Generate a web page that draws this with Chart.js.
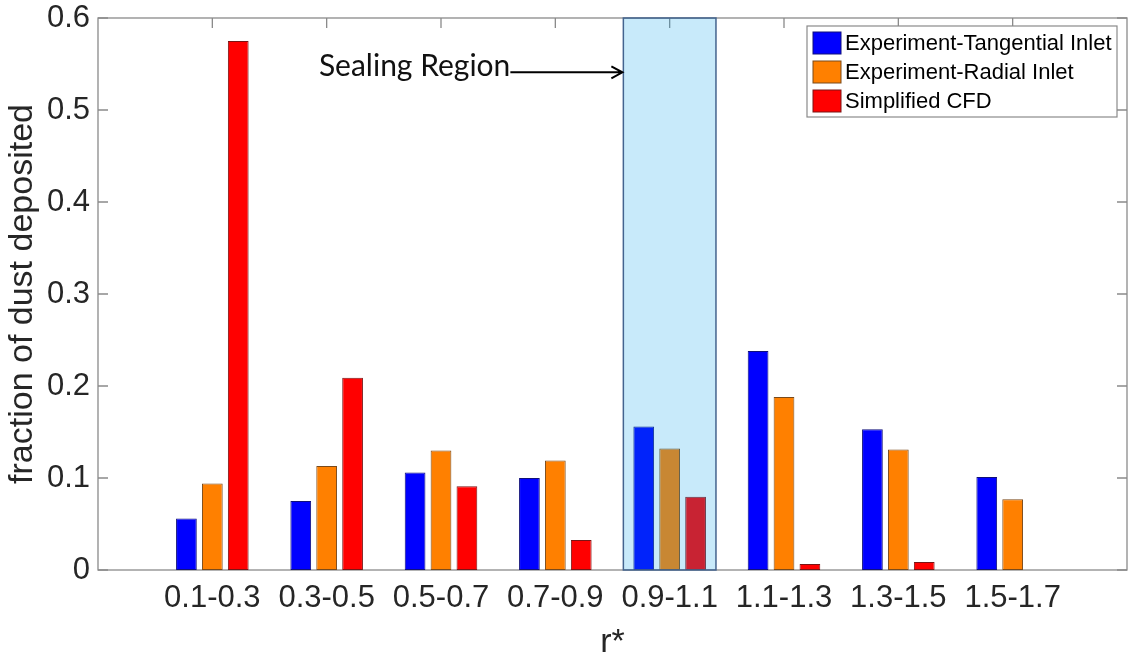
<!DOCTYPE html>
<html><head><meta charset="utf-8">
<script src="https://cdn.jsdelivr.net/npm/chart.js@4.4.1/dist/chart.umd.min.js"></script>
<style>html,body{margin:0;padding:0;background:#fff;} #wrap{width:1133px;height:656px;position:relative;}</style>
</head><body><div id="wrap"><canvas id="c" width="1133" height="656"></canvas></div>
<script>
const categories = ['0.1-0.3','0.3-0.5','0.5-0.7','0.7-0.9','0.9-1.1','1.1-1.3','1.3-1.5','1.5-1.7'];
const tangential = [0.056, 0.075, 0.106, 0.100, 0.156, 0.238, 0.153, 0.101];
const radial     = [0.094, 0.113, 0.130, 0.119, 0.132, 0.188, 0.131, 0.077];
const cfd        = [0.575, 0.209, 0.091, 0.0325, 0.0795, 0.0065, 0.0087, 0];
const seriesNames = ['Experiment-Tangential Inlet', 'Experiment-Radial Inlet', 'Simplified CFD'];
const yTicks = [0, 0.1, 0.2, 0.3, 0.4, 0.5, 0.6];
const xTitle = 'r*';
const yTitle = 'fraction of dust deposited';
const sealingCategory = '0.9-1.1';
const sealingLabel = 'Sealing Region';
const sealingArrowValue = 0.541;

const FONT = "'Liberation Sans', Arial, sans-serif";
const TXT = '#262626';
const AX = '#8a8a8a';

const labels = ['', ...categories, ''];
const pad = arr => [null, ...arr, null];

const styles = [
  {bg:'#0000ff', bd:'#10107a'},
  {bg:'#ff8000', bd:'#7a4a1a'},
  {bg:'#ff0000', bd:'#7a1414'}
];
const seriesData = [tangential, radial, cfd];

const deco = {
  id: 'deco',
  beforeDatasetsDraw(chart) {
    const {ctx, chartArea: a, scales: {x, y}} = chart;
    ctx.save();
    ctx.strokeStyle = AX; ctx.lineWidth = 1.3;
    ctx.beginPath();
    yTicks.forEach(v => {
      const py = y.getPixelForValue(v);
      ctx.moveTo(a.left, py); ctx.lineTo(a.left + 10, py);
      ctx.moveTo(a.right, py); ctx.lineTo(a.right - 10, py);
    });
    categories.forEach(c => {
      const px = x.getPixelForValue(c);
      ctx.moveTo(px, a.top); ctx.lineTo(px, a.top + 10);
      ctx.moveTo(px, a.bottom); ctx.lineTo(px, a.bottom - 10);
    });
    ctx.stroke();
    ctx.strokeRect(a.left, a.top, a.width, a.height);
    ctx.restore();
  },
  afterDatasetsDraw(chart) {
    const {ctx, chartArea: a, scales: {x, y}} = chart;
    ctx.save();
    // sealing region
    const xc = x.getPixelForValue(sealingCategory);
    const unit = x.getPixelForValue(1) - x.getPixelForValue(0);
    const half = 0.405 * unit;
    const top = y.getPixelForValue(0.6), bot = y.getPixelForValue(0);
    ctx.fillStyle = 'rgba(5,159,232,0.22)';
    ctx.fillRect(xc - half, top, 2 * half, bot - top);
    ctx.strokeStyle = '#44648f'; ctx.lineWidth = 1.5;
    ctx.strokeRect(xc - half, top, 2 * half, bot - top);
    // arrow + label
    const ay = y.getPixelForValue(sealingArrowValue);
    const tipX = xc - half - 1;
    const startX = tipX - 112;
    ctx.strokeStyle = '#000'; ctx.lineWidth = 2;
    ctx.beginPath();
    ctx.moveTo(startX, ay); ctx.lineTo(tipX, ay);
    ctx.moveTo(tipX - 11, ay - 6); ctx.lineTo(tipX, ay); ctx.lineTo(tipX - 11, ay + 6);
    ctx.stroke();
    ctx.fillStyle = '#111';
    ctx.font = "30px Lato, 'Open Sans', sans-serif";
    ctx.textAlign = 'right'; ctx.textBaseline = 'alphabetic';
    ctx.fillText(sealingLabel, startX, ay + 4);
    // legend
    const L = {x: a.right - 10 - 310, y: a.top + 8, w: 310, h: 91};
    ctx.fillStyle = '#fff';
    ctx.fillRect(L.x, L.y, L.w, L.h);
    ctx.strokeStyle = AX; ctx.lineWidth = 1.2;
    ctx.strokeRect(L.x, L.y, L.w, L.h);
    ctx.font = '22px ' + FONT;
    ctx.textAlign = 'left'; ctx.textBaseline = 'middle';
    chart.data.datasets.forEach((ds, i) => {
      const cy = L.y + 17 + i * 29;
      ctx.fillStyle = ds.backgroundColor;
      ctx.fillRect(L.x + 6, cy - 11, 28, 22);
      ctx.strokeStyle = ds.borderColor; ctx.lineWidth = 1;
      ctx.strokeRect(L.x + 6, cy - 11, 28, 22);
      ctx.fillStyle = '#000';
      ctx.fillText(ds.label, L.x + 38, cy + 1);
    });
    ctx.restore();
  }
};

new Chart(document.getElementById('c'), {
  type: 'bar',
  data: {
    labels: labels,
    datasets: seriesNames.map((n, i) => ({
      label: n,
      data: pad(seriesData[i]),
      backgroundColor: styles[i].bg,
      borderColor: styles[i].bd,
      borderWidth: 1,
      borderSkipped: false,
      categoryPercentage: 0.68,
      barPercentage: 0.8
    }))
  },
  options: {
    responsive: false,
    animation: false,
    devicePixelRatio: 1,
    layout: {padding: {top: 18, right: 6, left: 0, bottom: 0}},
    plugins: {legend: {display: false}, tooltip: {enabled: false}},
    scales: {
      x: {
        type: 'category',
        offset: false,
        grid: {display: false, drawTicks: false},
        border: {display: false},
        ticks: {autoSkip: false, maxRotation: 0, padding: 10, color: TXT, font: {family: FONT, size: 31}},
        title: {display: true, text: xTitle, color: TXT, font: {family: FONT, size: 34}, padding: {top: 0, bottom: -7}},
        afterFit: s => { s.height = 86; s.paddingLeft = 0; s.paddingRight = 0; }
      },
      y: {
        min: 0, max: 0.6,
        grid: {display: false, drawTicks: false},
        border: {display: false},
        afterBuildTicks: s => { s.ticks = yTicks.map(v => ({value: v})); },
        ticks: {padding: 8, color: TXT, font: {family: FONT, size: 31}, callback: v => String(v)},
        title: {display: true, text: yTitle, color: TXT, font: {family: FONT, size: 34}, padding: {top: 2, bottom: 0}},
        afterFit: s => { s.width = 98; s.paddingTop = 0; s.paddingBottom = 0; }
      }
    }
  },
  plugins: [deco]
});
</script>
</body></html>
